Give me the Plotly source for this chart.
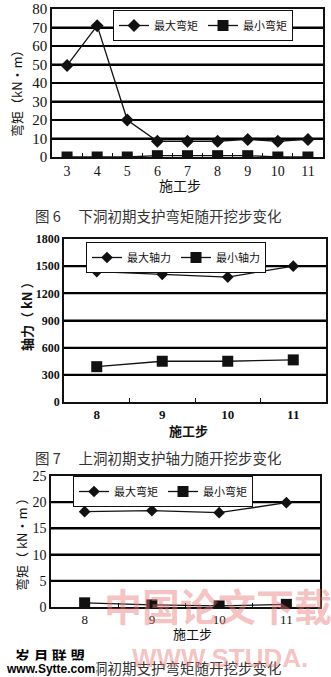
import plotly.graph_objects as go

# ---- data ----
steps1 = [3, 4, 5, 6, 7, 8, 9, 10, 11]
max_moment1 = [49.5, 71, 20, 8.5, 8.5, 8.5, 9.5, 8.5, 9.5]
min_moment1 = [0, 0, 0, 0.7, 0.7, 0.7, 0.7, 0, 0]
yticks1 = [0, 10, 20, 30, 40, 50, 60, 70, 80]

steps2 = [8, 9, 10, 11]
max_axial2 = [1440, 1410, 1380, 1500]
min_axial2 = [390, 450, 450, 465]
yticks2 = [0, 300, 600, 900, 1200, 1500, 1800]

steps3 = [8, 9, 10, 11]
max_moment3 = [18.2, 18.4, 18.0, 19.9]
min_moment3 = [0.8, 0.4, 0.2, 0.5]
yticks3 = [0, 5, 10, 15, 20, 25]

W, H = 331, 677
def px(x): return x / W
def py(y): return 1 - y / H

SERIF = "Liberation Serif, Noto Sans CJK SC, serif"
CJK = "Noto Sans CJK SC, sans-serif"
INK = "#111111"

fig = go.Figure()

def add_grid(xs, ticks, axis):
    lo, hi = xs[0] - 0.5, xs[-1] + 0.5
    for v in ticks[1:-1]:
        fig.add_trace(go.Scatter(x=[lo, hi], y=[v, v], mode="lines", showlegend=False,
                                 hoverinfo="skip", line=dict(color="#000000", width=2),
                                 xaxis="x" + axis, yaxis="y" + axis))

def add_pair(xs, ymax, ymin, axis, legend, names, msize):
    fig.add_trace(go.Scatter(x=xs, y=ymax, mode="lines+markers", name=names[0],
                             line=dict(color=INK, width=1.3),
                             marker=dict(symbol="diamond", size=msize[0], color=INK),
                             xaxis="x" + axis, yaxis="y" + axis, legend=legend))
    fig.add_trace(go.Scatter(x=xs, y=ymin, mode="lines+markers", name=names[1],
                             line=dict(color=INK, width=1.3),
                             marker=dict(symbol="square", size=msize[1], color=INK),
                             xaxis="x" + axis, yaxis="y" + axis, legend=legend))

add_grid(steps1, yticks1, "")
add_grid(steps2, yticks2, "2")
add_grid(steps3, yticks3, "3")
add_pair(steps1, max_moment1, min_moment1, "", "legend", ["最大弯矩", "最小弯矩"], (10, 11))
add_pair(steps2, max_axial2, min_axial2, "2", "legend2", ["最大轴力", "最小轴力"], (9, 11))
add_pair(steps3, max_moment3, min_moment3, "3", "legend3", ["最大弯矩", "最小弯矩"], (9, 11))

def xaxis(dom, anchor, xs, size, weight="normal"):
    return dict(domain=dom, anchor=anchor, type="linear",
                range=[xs[0] - 0.5, xs[-1] + 0.5], tickmode="array", tickvals=xs,
                showline=True, mirror=True, linecolor=INK, linewidth=1.5,
                ticks="", showgrid=False, zeroline=False,
                minor=dict(ticks="inside", ticklen=4, tickcolor=INK,
                           tickmode="array", tickvals=[x + 0.5 for x in xs[:-1]],
                           showgrid=False),
                tickfont=dict(family=SERIF, size=size, color=INK, weight=weight))

def yaxis(dom, anchor, ticks, size, weight="normal"):
    return dict(domain=dom, anchor=anchor, range=[ticks[0], ticks[-1]],
                tickmode="array", tickvals=ticks,
                showline=True, mirror=True, linecolor=INK, linewidth=1.5,
                zeroline=False, ticks="", showgrid=True, gridcolor="#000000", gridwidth=2,
                tickfont=dict(family=SERIF, size=size, color=INK, weight=weight))

legend_common = dict(orientation="h", bgcolor="white", bordercolor=INK, borderwidth=1,
                     xanchor="left", yanchor="top", itemwidth=30, tracegroupgap=0,
                     font=dict(family=CJK, size=11, color=INK))

fig.update_layout(
    template="none",
    width=W, height=H, margin=dict(l=0, r=0, t=0, b=0, pad=0),
    paper_bgcolor="white", plot_bgcolor="white", showlegend=True,
    xaxis=xaxis([px(52), px(323)], "y", steps1, 14),
    yaxis=yaxis([py(157), py(9)], "x", yticks1, 15),
    xaxis2=xaxis([px(64), px(326)], "y2", steps2, 13, "bold"),
    yaxis2=yaxis([py(402), py(239)], "x2", yticks2, 12, "bold"),
    xaxis3=xaxis([px(51), px(320)], "y3", steps3, 13),
    yaxis3=yaxis([py(607), py(476)], "x3", yticks3, 14),
    legend=dict(legend_common, x=px(113), y=py(10)),
    legend2=dict(legend_common, x=px(86), y=py(242)),
    legend3=dict(legend_common, x=px(73), y=py(476)),
)

ann = []
def text(x, y, s, size, family=CJK, color=INK, angle=0, xanchor="center", bold=False, **kw):
    if bold:
        s = "<b>" + s + "</b>"
    ann.append(dict(x=px(x), y=py(y), xref="paper", yref="paper", text=s, showarrow=False,
                    textangle=angle, xanchor=xanchor, yanchor="middle",
                    font=dict(family=family, size=size, color=color), **kw))

# axis titles
text(17, 90, "弯矩（kN·m）", 13, angle=-90)
text(180, 185, "施工步", 14)
text(27, 313, "<b>轴力（ kN ）</b>", 13, angle=-90)
text(188, 430, "<b>施工步</b>", 13)
text(21, 542, "弯矩（ kN·m ）", 13, angle=-90)
text(192, 633, "施工步", 13)

# captions
text(33, 215, "图 6　 下洞初期支护弯矩随开挖步变化", 14.5, color="#333", xanchor="left")
text(33, 457, "图 7　 上洞初期支护轴力随开挖步变化", 14.5, color="#333", xanchor="left")
text(33, 667, "图 8　 上洞初期支护弯矩随开挖步变化", 14.5, color="#333", xanchor="left")

# watermarks
text(218, 604, "中国论文下载", 38, color="rgba(235,120,120,0.45)", bold=True)
text(220, 658, "WWW.STUDA.", 26, family="Liberation Sans, sans-serif",
     color="rgba(235,120,120,0.45)", bold=True)
text(50, 655, "岁 月 联 盟", 15, color="#000", bold=True)
text(50, 669, "www.Sytte.com", 12, family="Liberation Sans, sans-serif", color="#000",
     bold=True, bgcolor="white")

fig.update_layout(annotations=ann)

fig.write_html("out.html")
